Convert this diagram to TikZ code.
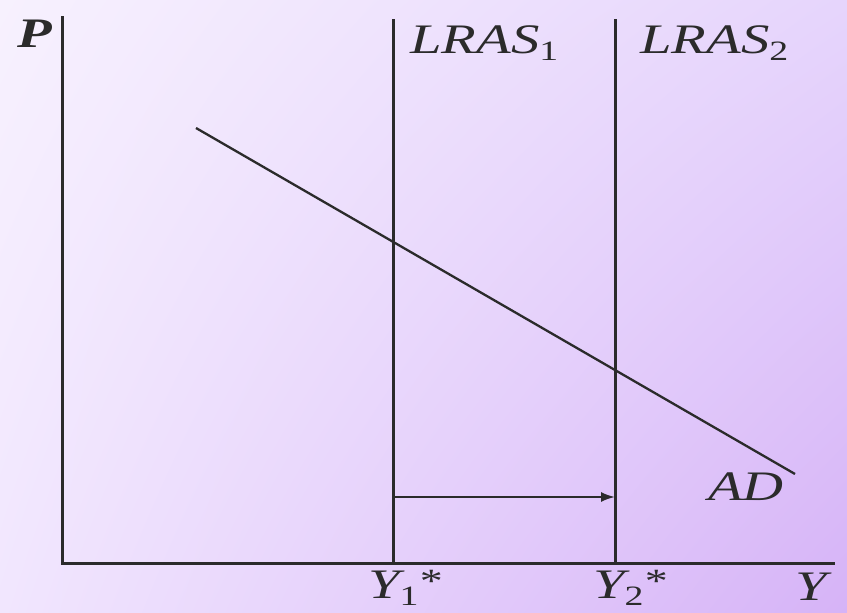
\documentclass[tikz,border=0pt]{standalone}
\usepackage{fontspec}
\setmainfont{Liberation Serif}
\usetikzlibrary{arrows.meta,shadings}
\definecolor{bgUL}{HTML}{F7F1FE}
\definecolor{bgUR}{HTML}{E6D5FC}
\definecolor{bgLL}{HTML}{F1E6FE}
\definecolor{bgLR}{HTML}{D6B3F7}
\definecolor{ink}{HTML}{2B2B2B}
\tikzset{
  axisline/.style={draw=ink, line width=3pt},
  curveline/.style={draw=ink, line width=2.3pt},
  shiftarrow/.style={draw=ink, line width=2pt, -{Latex[length=14pt,width=10pt]}},
  lbl/.style={inner sep=0pt, anchor=base west, text=ink, font=\fontsize{42}{42}\selectfont},
}
\newcommand{\wide}[1]{\scalebox{1.35}[1]{#1}}
\newcommand{\subs}[2]{\raisebox{#1}{\upshape\fontsize{28}{28}\selectfont #2}}
\newcommand{\starmark}{\raisebox{6pt}{\upshape\fontsize{34}{34}\selectfont *}}
\begin{document}
\begin{tikzpicture}[x=1pt,y=-1pt]
  \useasboundingbox (0,0) rectangle (847,613);
  \shade[upper left=bgUL, upper right=bgUR, lower left=bgLL, lower right=bgLR] (0,0) rectangle (847,613);

  \coordinate (origin) at (62,563);
  \coordinate (ytop) at (62,17);
  \coordinate (xend) at (833,563);
  \coordinate (l1top) at (393,19);
  \coordinate (l1bot) at (393,563);
  \coordinate (l2top) at (615,19);
  \coordinate (l2bot) at (615,563);
  \coordinate (adstart) at (196,128);
  \coordinate (adend) at (795,474);
  \coordinate (arrstart) at (393,497);
  \coordinate (arrend) at (615,497);

  \draw[axisline, line cap=rect] (ytop) -- (origin) -- (xend);
  \draw[axisline] (l1top) -- (l1bot);
  \draw[axisline] (l2top) -- (l2bot);
  \draw[curveline] (adstart) -- (adend);
  \draw[shiftarrow] (arrstart) -- (arrend);

  \node[lbl] (plabel) at (17,47) {\wide{\bfseries\itshape P}};
  \node[lbl] (lras1) at (410,53) {\wide{\itshape LRAS\subs{-7pt}{1}}};
  \node[lbl] (lras2) at (640,53) {\wide{\itshape LRAS\subs{-7pt}{2}}};
  \node[lbl] (adlabel) at (708,500) {\wide{\itshape AD}};
  \node[lbl] (y1label) at (368,598) {\wide{\itshape Y\subs{-7pt}{1}\hspace{1pt}\starmark}};
  \node[lbl] (y2label) at (593,598) {\wide{\itshape Y\subs{-7pt}{2}\hspace{1pt}\starmark}};
  \node[lbl] (ylabel) at (795,600) {\wide{\itshape Y}};
\end{tikzpicture}
\end{document}
